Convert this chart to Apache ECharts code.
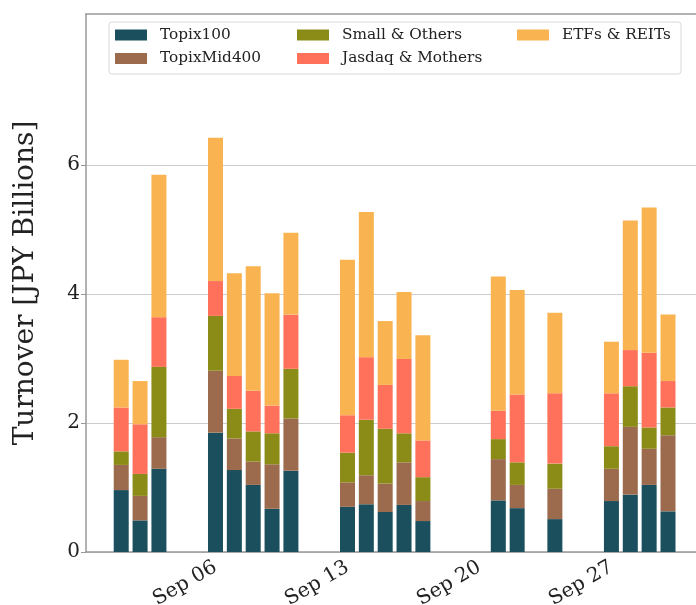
<!DOCTYPE html>
<html><head><meta charset="utf-8">
<script src="https://cdn.jsdelivr.net/npm/echarts@6/dist/echarts.min.js"></script>
<style>html,body{margin:0;padding:0;background:#fff}#c{width:696px;height:605px}</style>
</head><body><div id="c"></div>
<script>
var dates = ['2021-09-01','2021-09-02','2021-09-03','2021-09-06','2021-09-07','2021-09-08','2021-09-09','2021-09-10',
  '2021-09-13','2021-09-14','2021-09-15','2021-09-16','2021-09-17','2021-09-21','2021-09-22','2021-09-24',
  '2021-09-27','2021-09-28','2021-09-29','2021-09-30'];
var topix100    = [0.96,0.49,1.29,1.85,1.27,1.04,0.67,1.26,0.70,0.74,0.62,0.73,0.48,0.80,0.68,0.51,0.79,0.89,1.04,0.63];
var topixMid400 = [0.39,0.38,0.49,0.96,0.49,0.36,0.69,0.81,0.38,0.45,0.44,0.66,0.31,0.64,0.36,0.47,0.50,1.05,0.56,1.18];
var smallOthers = [0.21,0.34,1.09,0.85,0.46,0.47,0.48,0.77,0.46,0.86,0.85,0.45,0.37,0.31,0.35,0.39,0.35,0.63,0.33,0.43];
var jasdaqMothers=[0.68,0.77,0.77,0.54,0.51,0.63,0.43,0.84,0.58,0.97,0.68,1.15,0.57,0.44,1.05,1.09,0.82,0.56,1.16,0.41];
var etfsReits   = [0.74,0.67,2.21,2.22,1.59,1.93,1.74,1.27,2.41,2.25,0.99,1.04,1.63,2.08,1.62,1.25,0.80,2.01,2.25,1.03];
var seriesNames = ['Topix100','TopixMid400','Small & Others','Jasdaq & Mothers','ETFs & REITs'];
var tickDates = ['2021-09-06','2021-09-13','2021-09-20','2021-09-27'];
var tickLabels = ['Sep 06','Sep 13','Sep 20','Sep 27'];
var yTicks = [0,2,4,6];

var colors = ['#1b4f5d','#9c6b4e','#8b8c17','#ff715a','#f9b451'];
var font = 'DejaVu Serif';
var DAY = 86400000;
function ts(s){ return new Date(s+'T00:00:00Z').getTime(); }
var ref = ts(tickDates[0]);
function dayOf(s){ return Math.round((ts(s) - ref)/DAY); }
var xs = dates.map(dayOf);
var tickDays = tickDates.map(dayOf);
var dMin = -6.868, dMax = 25.485;
var allVals = [topix100, topixMid400, smallOthers, jasdaqMothers, etfsReits];

// data stored as [value, day] so that the value dimension is the stacked one
var series = allVals.map(function(vals, i){
  return {
    name: seriesNames[i], type: 'bar', stack: 'total', barWidth: 15,
    xAxisIndex: 0, encode: {x: 1, y: 0},
    itemStyle: {color: colors[i]},
    data: vals.map(function(v, j){ return [v, xs[j]]; })
  };
});

function legendCol(names, left){
  return {
    orient: 'vertical', left: left, top: 26, padding: 0, itemWidth: 32, itemHeight: 11, itemGap: 5.5,
    data: names, icon: 'rect', selectedMode: false,
    textStyle: {fontFamily: font, fontSize: 15.3, color: '#222', lineHeight: 18, padding: [0,0,0,8]}
  };
}

var chart = echarts.init(document.getElementById('c'));
chart.setOption({
  animation: false,
  color: colors,
  grid: {left: 86, top: 14, right: 0, bottom: 53, containLabel: false, outerBoundsMode: 'none'},
  graphic: [{type: 'rect', z: 1, shape: {x: 109, y: 22, width: 572, height: 52, r: 3},
    style: {fill: 'rgba(255,255,255,0.8)', stroke: '#d8d8d8', lineWidth: 1}}],
  legend: [
    legendCol([seriesNames[0], seriesNames[1]], 115),
    legendCol([seriesNames[2], seriesNames[3]], 297),
    legendCol([seriesNames[4]], 517)
  ],
  xAxis: [{
    type: 'value', position: 'bottom', min: dMin, max: dMax,
    axisLine: {show: true, onZero: false, lineStyle: {color: '#999', width: 1.5}},
    axisTick: {show: false},
    splitLine: {show: false},
    axisLabel: {customValues: tickDays, rotate: 30, margin: 14, fontFamily: font, fontSize: 20, color: '#222',
      formatter: function(v){ var k = tickDays.indexOf(Math.round(v)); return k >= 0 ? tickLabels[k] : ''; }}
  }, {
    type: 'value', position: 'top', min: dMin, max: dMax,
    axisLine: {show: true, onZero: false, lineStyle: {color: '#999', width: 1.5}},
    axisTick: {show: false}, axisLabel: {show: false}, splitLine: {show: false}
  }],
  yAxis: {
    type: 'value', min: 0, max: 8.34,
    name: 'Turnover [JPY Billions]', nameLocation: 'middle', nameGap: 46,
    nameTextStyle: {fontFamily: font, fontSize: 28, color: '#222'},
    axisLine: {show: true, onZero: false, lineStyle: {color: '#999', width: 1.5}},
    axisTick: {show: true, length: 5, customValues: yTicks, lineStyle: {color: '#999'}},
    axisLabel: {customValues: yTicks, margin: 6, fontFamily: font, fontSize: 20, color: '#222'},
    splitLine: {show: true, lineStyle: {color: '#cccccc', width: 1}}
  },
  series: series
});
</script></body></html>
